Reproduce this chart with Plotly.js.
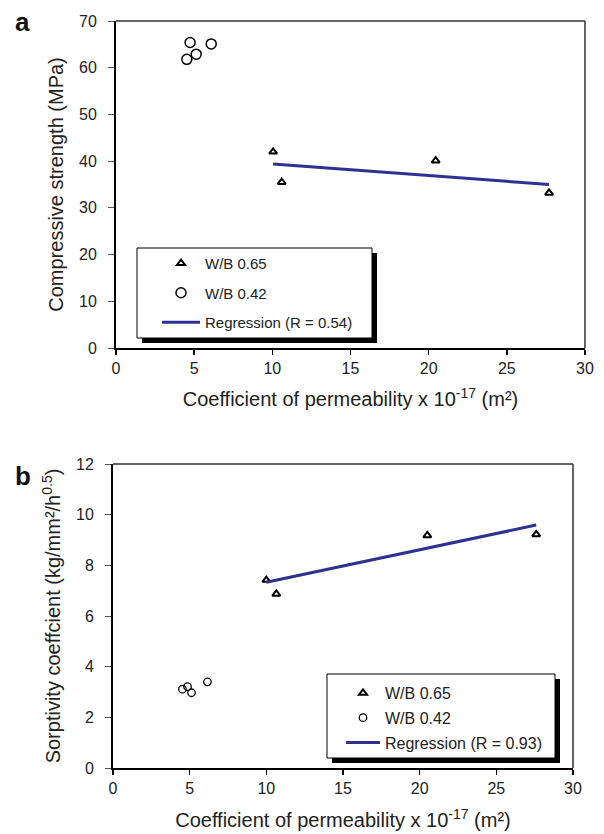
<!DOCTYPE html>
<html><head><meta charset="utf-8">
<script src="https://cdn.plot.ly/plotly-3.0.1.min.js"></script>
<style>html,body{margin:0;padding:0;background:#fff}</style>
</head><body><div id="chart" style="width:604px;height:834px"></div>
<script>
// Panel a: compressive strength vs permeability
const wb065PermA = [10.05, 10.6, 20.45, 27.7];
const wb065StrengthA = [42.0, 35.5, 40.1, 33.2];
const wb042PermA = [4.74, 5.13, 4.53, 6.09];
const wb042StrengthA = [65.4, 62.9, 61.8, 65.1];
const regPermA = [10.05, 27.7];
const regStrengthA = [39.4, 35.0];

// Panel b: sorptivity vs permeability
const wb065PermB = [10.0, 10.65, 20.5, 27.6];
const wb065SorpB = [7.42, 6.87, 9.18, 9.22];
const wb042PermB = [4.53, 4.86, 5.12, 6.16];
const wb042SorpB = [3.11, 3.21, 2.97, 3.40];
const regPermB = [10.0, 27.6];
const regSorpB = [7.33, 9.59];

const xTicks = [0, 5, 10, 15, 20, 25, 30];
const yTicksA = [0, 10, 20, 30, 40, 50, 60, 70];
const yTicksB = [0, 2, 4, 6, 8, 10, 12];

const W = 604, H = 834;
const px = v => v / W;
const py = v => 1 - v / H;
const FONT = 'Liberation Sans, Arial, sans-serif';
const BLUE = '#2E3192';

const traces = [
  {x: wb065PermA, y: wb065StrengthA, xaxis: 'x', yaxis: 'y', mode: 'markers', name: 'W/B 0.65',
   legend: 'legend', legendgroup: 'a1',
   marker: {symbol: 'triangle-up-open', size: 7, color: '#000', line: {color: '#000', width: 2}}},
  {x: wb042PermA, y: wb042StrengthA, xaxis: 'x', yaxis: 'y', mode: 'markers', name: 'W/B 0.42',
   legend: 'legend', legendgroup: 'a2',
   marker: {symbol: 'circle-open', size: 10, color: '#000', line: {color: '#000', width: 1.5}}},
  {x: regPermA, y: regStrengthA, xaxis: 'x', yaxis: 'y', mode: 'lines', name: 'Regression (R = 0.54)',
   legend: 'legend', legendgroup: 'a3',
   line: {color: BLUE, width: 3}},
  {x: wb065PermB, y: wb065SorpB, xaxis: 'x2', yaxis: 'y2', mode: 'markers', name: 'W/B 0.65',
   legend: 'legend2', legendgroup: 'b1',
   marker: {symbol: 'triangle-up-open', size: 7, color: '#000', line: {color: '#000', width: 2}}},
  {x: wb042PermB, y: wb042SorpB, xaxis: 'x2', yaxis: 'y2', mode: 'markers', name: 'W/B 0.42',
   legend: 'legend2', legendgroup: 'b2',
   marker: {symbol: 'circle-open', size: 7.5, color: '#000', line: {color: '#000', width: 1.3}}},
  {x: regPermB, y: regSorpB, xaxis: 'x2', yaxis: 'y2', mode: 'lines', name: 'Regression (R = 0.93)',
   legend: 'legend2', legendgroup: 'b3',
   line: {color: BLUE, width: 3}}
];

function xAxis(domain, anchor, title, standoff) {
  return {
    domain: domain, anchor: anchor, range: [0, 30], tickvals: xTicks, ticktext: xTicks.map(String),
    showgrid: false, zeroline: false, showline: true, linecolor: '#000', linewidth: 2,
    ticks: 'outside', ticklen: 5, tickwidth: 1.5, tickcolor: '#000',
    tickfont: {family: FONT, size: 16, color: '#222'},
    title: {text: title, font: {family: FONT, size: 20, color: '#222'}, standoff: standoff}
  };
}
function yAxis(domain, anchor, range, ticks, title) {
  return {
    domain: domain, anchor: anchor, range: range, tickvals: ticks, ticktext: ticks.map(String),
    showgrid: false, zeroline: false, showline: true, linecolor: '#000', linewidth: 2,
    ticks: 'outside', ticklen: 6, tickwidth: 1, tickcolor: '#555', ticklabelstandoff: 8,
    tickfont: {family: FONT, size: 16, color: '#222'},
    title: {text: title, font: {family: FONT, size: 20, color: '#222'}, standoff: 10}
  };
}

const domXA = [px(116), px(585)], domYA = [py(348), py(21)];
const domXB = [px(113), px(573)], domYB = [py(768), py(464)];

function frame(xr, yr) {
  return [
    {type: 'line', xref: xr + ' domain', yref: yr + ' domain', x0: 0, x1: 1, y0: 1, y1: 1, line: {color: '#333', width: 1.5}},
    {type: 'line', xref: xr + ' domain', yref: yr + ' domain', x0: 1, x1: 1, y0: 0, y1: 1, line: {color: '#333', width: 1.5}}
  ];
}
function legendBox(l, t, r, b, off) {
  return [
    {type: 'rect', xref: 'paper', yref: 'paper', x0: px(l + off), x1: px(r + off), y0: py(b + off), y1: py(t + off),
     fillcolor: '#000', line: {width: 0}, layer: 'above'},
    {type: 'rect', xref: 'paper', yref: 'paper', x0: px(l), x1: px(r), y0: py(b), y1: py(t),
     fillcolor: '#fff', line: {color: '#000', width: 1}, layer: 'above'}
  ];
}

const layout = {
  width: W, height: H,
  margin: {l: 0, r: 0, t: 0, b: 0},
  paper_bgcolor: '#fff', plot_bgcolor: '#fff',
  font: {family: FONT, color: '#222'},
  xaxis: xAxis(domXA, 'y', 'Coefficient of permeability x 10<sup>-17</sup> (m²)', 16),
  yaxis: yAxis(domYA, 'x', [0, 70], yTicksA, 'Compressive strength (MPa)'),
  xaxis2: xAxis(domXB, 'y2', 'Coefficient of permeability x 10<sup>-17</sup> (m²)', 17),
  yaxis2: yAxis(domYB, 'x2', [0, 12], yTicksB, 'Sorptivity coeffcient (kg/mm²/h<sup>0.5</sup>)'),
  showlegend: true,
  legend: {x: px(157), xanchor: 'left', y: py(247), yanchor: 'top', bgcolor: 'rgba(0,0,0,0)', borderwidth: 0,
    font: {family: FONT, size: 15, color: '#222'}, itemwidth: 38, tracegroupgap: 7},
  legend2: {x: px(341), xanchor: 'left', y: py(676), yanchor: 'top', bgcolor: 'rgba(0,0,0,0)', borderwidth: 0,
    font: {family: FONT, size: 16, color: '#222'}, itemwidth: 34, tracegroupgap: 1},
  shapes: [].concat(frame('x', 'y'), frame('x2', 'y2'),
    legendBox(137, 248, 372, 338, 5), legendBox(327, 674, 555, 758, 5)),
  annotations: [
    {text: '<b>a</b>', xref: 'paper', yref: 'paper', x: px(22), y: py(22), xanchor: 'center', yanchor: 'middle',
     showarrow: false, font: {family: FONT, size: 26, color: '#111'}},
    {text: '<b>b</b>', xref: 'paper', yref: 'paper', x: px(23), y: py(476), xanchor: 'center', yanchor: 'middle',
     showarrow: false, font: {family: FONT, size: 26, color: '#111'}}
  ]
};

Plotly.newPlot('chart', traces, layout, {staticPlot: true, displayModeBar: false});
</script></body></html>
